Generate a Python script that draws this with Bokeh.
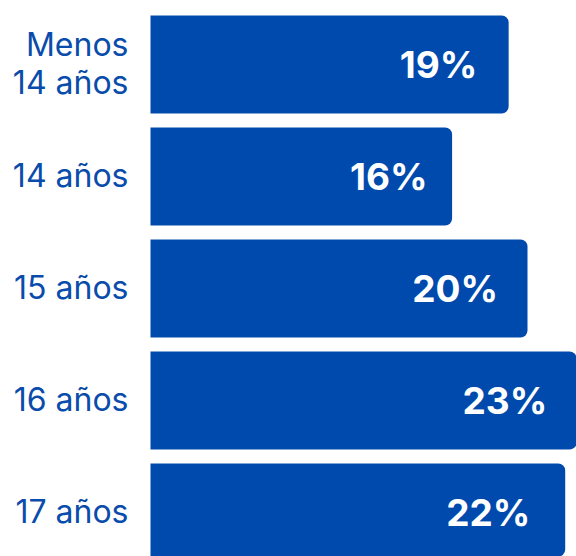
from bokeh.plotting import figure
from bokeh.models import Range1d, ColumnDataSource
from bokeh.core.properties import value
from bokeh.embed import file_html
from bokeh.resources import INLINE

categories = ["Menos\n14 años", "14 años", "15 años", "16 años", "17 años"]
values = [19, 16, 20, 23, 22]
value_labels = ["19%", "16%", "20%", "23%", "22%"]

BAR = "#004AAD"
TXT = "#0A4CAB"

W, H = 576, 556
PX_PER = 18.85
X0 = 150
PITCH = 112
Y0 = 64

pos = list(range(len(values)))
src = ColumnDataSource(dict(
    y=pos, v=values, cat=categories, lab=value_labels,
    lx=[v * 0.88 - 1.44 for v in values],
))

p = figure(width=W, height=H, output_backend="svg", toolbar_location=None,
           x_range=Range1d(-X0 / PX_PER, (W - X0) / PX_PER),
           y_range=Range1d((H - Y0) / PITCH, -Y0 / PITCH),
           min_border=0, outline_line_color=None)
p.axis.visible = False
p.grid.visible = False
p.background_fill_color = "white"
p.border_fill_color = "white"

p.hbar(y="y", left=0, right="v", height=98 / PITCH, source=src,
       fill_color=BAR, line_color=None, border_radius=(0, 7, 7, 0))

p.text(x=0, y="y", text="cat", source=src, x_offset=-22, y_offset=-1,
       text_align="right", text_baseline="middle",
       text_font=value("Inter"), text_font_size="32px",
       text_font_style="normal", text_color=TXT, text_line_height=0.98)

p.text(x="lx", y="y", text="lab", source=src, y_offset=0,
       text_align="center", text_baseline="middle",
       text_font=value("Inter"), text_font_size="37px",
       text_font_style="bold", text_color="white")

open("out.html", "w").write(file_html(p, INLINE))
